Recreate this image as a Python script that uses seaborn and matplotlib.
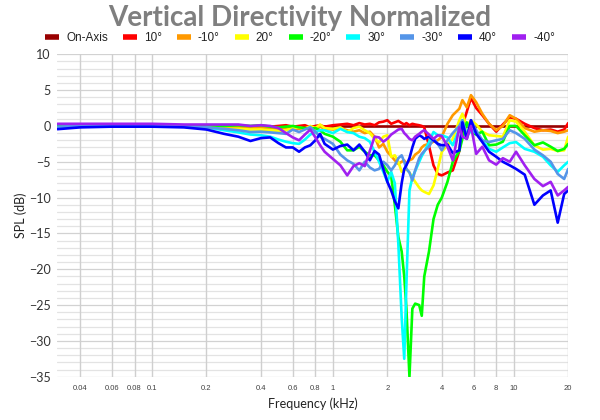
import matplotlib
matplotlib.use("Agg")
import matplotlib.pyplot as plt
from matplotlib.lines import Line2D
from matplotlib.ticker import FixedLocator, FixedFormatter, NullLocator
import pandas as pd
import seaborn as sns

# ---------------- data (frequency in kHz, level in dB) ----------------
FREQ = [0.03, 0.04, 0.06, 0.1, 0.15, 0.2, 0.25, 0.3, 0.35, 0.4, 0.45, 0.5, 0.55,
        0.6, 0.65, 0.7, 0.75, 0.8, 0.85, 0.9, 1.0, 1.1, 1.2, 1.3, 1.4, 1.5, 1.6,
        1.7, 1.8, 1.9, 2.0, 2.1, 2.2, 2.3, 2.4, 2.48, 2.55, 2.65, 2.75, 2.85, 3.0,
        3.1, 3.2, 3.4, 3.6, 3.8, 4.0, 4.3, 4.6, 5.0, 5.2, 5.5, 5.8, 6.2, 6.7, 7.3,
        8.0, 8.7, 9.5, 10.3, 11.5, 13.0, 14.5, 16.0, 17.5, 19.0, 20.0]

ONAXIS_FREQ = [0.03, 20.0]
ONAXIS = [0.0, 0.0]

P10 = [0.0, 0.0, 0.05, 0.0, 0.0, -0.05, 0.0, 0.0, -0.1, 0.0, -0.1, 0.0, 0.1,
       -0.1, 0.0, 0.1, -0.2, 0.0, 0.1, -0.1, 0.1, 0.2, 0.3, 0.1, 0.4, 0.2, 0.3,
       0.1, 0.5, 0.6, 0.8, 0.3, 0.5, 0.7, 0.4, 0.2, 0.4, 0.1, 0.3, 0.2, 0.1,
       0.0, -0.2, -2.8, -5.5, -6.7, -6.9, -6.5, -6.2, -3.5, 0.0, 2.0, 3.9, 2.5, 1.5, 0.3,
       -0.8, 0.2, 1.2, 1.0, 0.3, -0.3, -0.6, -0.5, -0.8, -0.5, 0.4]

M10 = [-0.1, 0.0, 0.0, 0.0, -0.1, -0.1, -0.2, -0.2, -0.3, -0.2, -0.3, -0.4, -0.3,
       -0.5, -0.4, -0.3, -0.2, -0.3, -0.1, -0.4, -0.5, -0.3, -0.6, -0.8, -0.6, -1.0, -0.8,
       -1.5, -3.0, -2.5, -3.6, -4.2, -4.8, -5.3, -5.0, -4.8, -5.3, -4.8, -4.6, -4.0, -3.6,
       -3.0, -2.7, -2.5, -2.2, -2.0, -1.5, 0.3, 1.5, 2.4, 3.6, 2.6, 4.3, 3.3, 1.7, 0.3,
       -0.6, 0.0, 1.5, 1.0, -0.3, -0.8, -0.6, -0.7, -1.0, -0.8, -0.6]

P20 = [0.0, 0.0, -0.1, -0.1, -0.1, -0.2, -0.4, -0.4, -0.5, -0.5, -0.6, -0.7, -0.6,
       -0.3, -0.2, -0.4, 0.0, -0.3, 0.2, -0.3, -0.4, -0.2, -0.85, -0.3, -0.1, -0.6, -1.0,
       -1.8, -2.3, -1.5, -1.3, -4.3, -4.1, -5.0, -6.4, -6.2, -6.0, -6.5, -7.2, -7.8, -8.6,
       -9.0, -9.2, -9.5, -8.3, -6.0, -3.6, -2.7, -1.8, 0.8, 1.7, 0.0, 0.8, 0.2, -0.8, -1.3,
       -1.4, -1.5, 0.8, 0.6, -0.8, -2.7, -3.3, -3.2, -3.5, -3.4, -1.5]

M20 = [0.0, 0.1, 0.0, 0.0, 0.0, 0.1, 0.0, 0.1, 0.0, 0.1, -0.1, -0.2, -0.1,
       0.0, -0.2, -0.3, -0.4, -0.3, -0.6, -1.1, -1.5, -2.2, -3.4, -3.4, -2.9, -3.6, -4.1,
       -4.1, -4.8, -5.5, -6.4, -7.0, -11.0, -15.5, -17.5, -21.0, -25.5, -35.0, -25.5, -24.8, -25.0,
       -26.5, -21.0, -17.5, -13.0, -11.0, -10.0, -7.8, -5.0, -3.5, -1.8, 0.5, -0.8, -1.2, -0.8, -2.7,
       -2.6, -2.2, 0.0, 0.0, -1.3, -2.7, -2.3, -2.9, -3.5, -3.2, -2.5]

P30 = [-0.2, -0.1, 0.0, 0.0, -0.1, -0.2, -0.6, -0.9, -1.2, -1.3, -1.5, -1.9, -2.2,
       -2.4, -2.5, -1.9, -1.2, -0.85, -0.6, -0.6, -1.0, -0.4, -0.85, -1.0, -1.5, -1.7, -2.2,
       -3.6, -5.0, -6.4, -7.8, -6.4, -8.0, -16.4, -26.7, -32.5, -22.0, -9.0, -7.2, -6.3, -5.0,
       -4.2, -3.6, -2.25, -0.85, -1.3, -1.3, -1.6, -2.7, -0.4, 0.8, -1.5, -0.6, -1.0, -2.0, -3.2,
       -3.6, -3.0, -2.4, -2.25, -3.2, -3.6, -4.3, -5.5, -6.4, -5.5, -5.0]

M30 = [-0.1, 0.0, 0.0, 0.0, -0.1, -0.2, -0.4, -0.6, -0.85, -0.8, -0.9, -1.0, -1.1,
       -0.5, -0.85, -0.5, -0.15, -0.8, -1.5, -1.8, -2.5, -4.0, -4.8, -5.3, -6.2, -5.0, -5.8,
       -6.2, -6.0, -5.0, -5.5, -6.2, -5.5, -4.5, -4.1, -5.0, -6.0, -6.5, -7.6, -6.2, -4.5,
       -3.9, -3.5, -2.9, -1.8, -2.5, -3.4, -2.0, -1.0, 0.0, 0.8, -1.5, 0.8, -0.6, -2.0, -2.25,
       -2.0, -1.8, -0.6, -1.0, -1.8, -3.3, -4.1, -5.0, -6.7, -7.4, -6.0]

P40 = [-0.45, -0.2, -0.1, -0.1, -0.2, -0.5, -1.1, -1.5, -2.1, -1.7, -1.6, -2.4, -3.0,
       -3.0, -3.6, -3.0, -2.7, -2.0, -1.1, -2.5, -3.3, -2.8, -2.6, -3.4, -2.6, -3.6, -4.8,
       -3.5, -4.0, -6.0, -7.8, -9.0, -10.5, -11.5, -8.0, -6.0, -5.5, -4.5, -3.0, -1.8, -1.3,
       -1.5, -1.8, -1.5, -2.0, -2.5, -2.7, -2.6, -3.8, -3.4, 0.5, -1.8, 0.8, -1.1, -2.25, -3.6,
       -4.3, -5.0, -5.5, -6.0, -6.8, -11.0, -9.7, -9.0, -13.5, -9.5, -9.0]

M40 = [0.3, 0.3, 0.3, 0.3, 0.2, 0.2, 0.2, 0.2, 0.0, 0.1, 0.0, -0.3, -1.0,
       -1.6, -2.0, -1.2, -0.5, -1.6, -2.7, -3.6, -4.6, -5.5, -6.9, -5.6, -5.2, -5.6, -3.5,
       -1.5, -1.6, -2.2, -1.8, -1.2, -0.85, -0.5, -0.4, -1.0, -1.3, -1.8, -2.0, -1.5, -1.1,
       -0.8, -0.6, -1.2, -1.8, -1.3, -1.4, -2.9, -4.8, -0.2, -1.5, -1.8, 0.0, -3.9, -2.9, -4.8,
       -5.4, -4.5, -5.0, -3.6, -5.5, -7.4, -8.4, -7.8, -9.7, -9.0, -8.5]

SERIES = ["On-Axis", "10°", "-10°", "20°", "-20°", "30°", "-30°", "40°", "-40°"]
COLORS = ["#990000", "#FF0000", "#FF9900", "#FFFF00", "#00FF00",
          "#00FFFF", "#5595E8", "#0000FF", "#A020F0"]

XTICKS = [0.04, 0.06, 0.08, 0.1, 0.2, 0.4, 0.6, 0.8, 1, 2, 4, 6, 8, 10, 20]
XTICK_LABELS = ["0.04", "0.06", "0.08", "0.1", "0.2", "0.4", "0.6", "0.8",
                "1", "2", "4", "6", "8", "10", "20"]
YTICKS = [-35, -30, -25, -20, -15, -10, -5, 0, 5, 10]

# ---------------- long table ----------------
curves = [(ONAXIS_FREQ, ONAXIS), (FREQ, P10), (FREQ, M10), (FREQ, P20), (FREQ, M20),
          (FREQ, P30), (FREQ, M30), (FREQ, P40), (FREQ, M40)]
rows = []
for name, (fr, vals) in zip(SERIES, curves):
    for f, v in zip(fr, vals):
        rows.append({"series": name, "freq": f, "db": v})
df = pd.DataFrame(rows)

# ---------------- figure ----------------
sns.set_theme(style="white")
plt.rcParams["font.family"] = ["Lato", "DejaVu Sans"]

fig = plt.figure(figsize=(6, 4.2), dpi=100)
ax = fig.add_axes([0.0958, 0.1031, 0.8512, 0.7676])

# grid
for yv in range(-35, 11):
    ax.axhline(yv, color="#E3E3E3" if yv % 5 else "#D2D2D2", lw=0.9, zorder=0)
for xv in XTICKS:
    ax.axvline(xv, color="#CFCFCF", lw=1.0, zorder=0)

sns.lineplot(data=df, x="freq", y="db", hue="series", hue_order=SERIES,
             palette=COLORS, sort=False, estimator=None, linewidth=1.9,
             ax=ax, legend=False, zorder=3)

ax.set_xscale("log")
ax.set_xlim(0.03, 20)
ax.set_ylim(-35, 10)
ax.xaxis.set_major_locator(FixedLocator(XTICKS))
ax.xaxis.set_major_formatter(FixedFormatter(XTICK_LABELS))
ax.xaxis.set_minor_locator(NullLocator())
ax.set_yticks(YTICKS)
ax.tick_params(axis="x", labelsize=5.5, colors="#404040", length=0, pad=6)
ax.tick_params(axis="y", labelsize=9, colors="#333333", length=0, pad=5)
for lab in ax.get_xticklabels():
    lab.set_family(["Liberation Sans", "DejaVu Sans"])
for s in ax.spines.values():
    s.set_visible(False)
ax.set_xlabel("")
ax.set_ylabel("")

fig.text(0.5213, 0.038, "Frequency (kHz)", ha="center", va="center",
         fontsize=9, color="#222222")
fig.text(0.035, 0.487, "SPL (dB)", ha="center", va="center", rotation=90,
         fontsize=9, color="#222222")
fig.text(0.499, 0.958, "Vertical Directivity Normalized", ha="center", va="center",
         fontsize=20, fontweight="bold", color="#7F7F7F")

handles = [Line2D([], [], color=c, lw=4, solid_capstyle="butt") for c in COLORS]
fig.legend(handles, SERIES, loc="center", bbox_to_anchor=(0.5, 0.909), ncol=9,
           frameon=False, handlelength=1.2, handletextpad=0.6, columnspacing=1.25,
           prop={"family": ["Liberation Sans", "DejaVu Sans"], "size": 8.5},
           labelcolor="#222222")

fig.savefig("out.png", dpi=100)
